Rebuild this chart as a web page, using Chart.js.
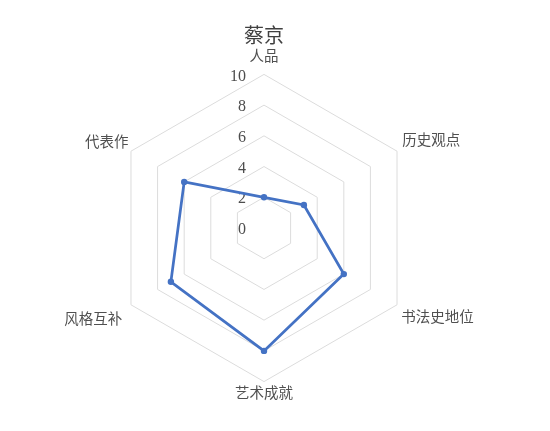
<!DOCTYPE html>
<html lang="zh">
<head>
    <meta charset="UTF-8">
    <title>蔡京</title>
    <script src="https://cdn.jsdelivr.net/npm/chart.js"></script>
    <style>
        body {
            margin: 0;
            background: #fff;
        }
        #wrap {
            width: 550px;
            height: 431px;
        }
    </style>
</head>
<body>
<div id="wrap">
    <canvas id="radarChart" width="550" height="431"></canvas>
</div>
<script>
    var chartTitle = '蔡京';
    var categories = ['人品', '历史观点', '书法史地位', '艺术成就', '风格互补', '代表作'];
    var scores = [2, 3, 6, 8, 7, 6];
    var tickValues = [0, 2, 4, 6, 8, 10];
    var tickLabels = ['0', '2', '4', '6', '8', '10'];

    // label gaps per category, Excel puts them a bit unevenly
    var labelGaps = [10, 6, 5, 2, 10, 3];

    var cjk = '"Noto Sans CJK SC", "Noto Sans", sans-serif';

    // Excel draws the axis numbers left of the vertical axis, including the 0
    var tickLabelPlugin = {
        id: 'tickLabelPlugin',
        beforeDatasetsDraw: function (chart) {
            var scale = chart.scales.r;
            var ctx = chart.ctx;
            ctx.save();
            ctx.font = '16px "Liberation Serif", serif';
            ctx.fillStyle = '#4d4d4d';
            ctx.textAlign = 'right';
            ctx.textBaseline = 'middle';
            for (var i = 0; i < tickValues.length; i++) {
                var d = scale.getDistanceFromCenterForValue(tickValues[i]);
                ctx.fillText(tickLabels[i], scale.xCenter - 18, scale.yCenter - d + 2);
            }
            ctx.restore();
        }
    };

    var ctx = document.getElementById('radarChart').getContext('2d');
    var chart = new Chart(ctx, {
        type: 'radar',
        data: {
            labels: categories,
            datasets: [{
                label: chartTitle,
                data: scores,
                borderColor: '#4472c4',
                backgroundColor: '#4472c4',
                borderWidth: 2.75,
                pointRadius: 3.2,
                pointBackgroundColor: '#4472c4',
                pointBorderWidth: 0,
                fill: false,
                tension: 0
            }]
        },
        options: {
            responsive: false,
            animation: false,
            layout: {
                padding: { top: 0, left: 25, right: 47, bottom: 26 }
            },
            plugins: {
                legend: { display: false },
                tooltip: { enabled: false },
                title: {
                    display: true,
                    text: chartTitle,
                    color: '#404040',
                    font: { family: cjk, size: 20, weight: 'normal', lineHeight: 1.2 },
                    padding: { top: 23, bottom: -4 }
                }
            },
            scales: {
                r: {
                    min: 0,
                    max: 10,
                    ticks: {
                        stepSize: 2,
                        display: false
                    },
                    angleLines: { display: false },
                    grid: {
                        color: '#dcdcdc',
                        lineWidth: 1
                    },
                    pointLabels: {
                        color: '#505050',
                        font: { family: cjk, size: 14.5, lineHeight: 1.2 },
                        padding: function (c) { return labelGaps[c.index]; }
                    }
                }
            }
        },
        plugins: [tickLabelPlugin]
    });
</script>
</body>
</html>
